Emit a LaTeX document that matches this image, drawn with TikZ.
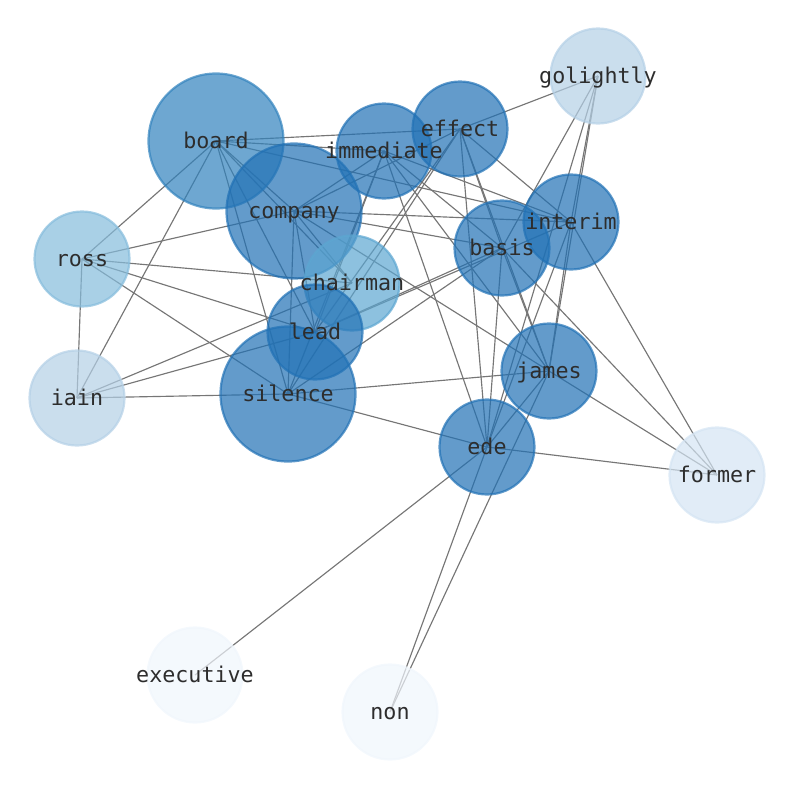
\documentclass[tikz,border=0pt]{standalone}
\usepackage{fontspec}
\setmonofont{DejaVu Sans Mono}
\definecolor{cA}{RGB}{33,113,181}
\definecolor{cB}{RGB}{49,130,189}
\definecolor{cC}{RGB}{92,166,209}
\definecolor{cD}{RGB}{133,188,220}
\definecolor{cE}{RGB}{180,208,230}
\definecolor{cF}{RGB}{212,228,243}
\definecolor{cG}{RGB}{240,246,252}
\definecolor{edgec}{RGB}{118,118,118}
\definecolor{txt}{RGB}{45,45,45}
\begin{document}
\begin{tikzpicture}[x=1pt,y=-1pt,
  edge/.style={draw=edgec,line width=1.15pt},
  disc/.style={fill=#1,draw=#1,fill opacity=0.7,draw opacity=0.7,line width=2.2pt},
  lbl/.style={anchor=base,text=txt,font=\ttfamily\fontsize{21.7}{24}\selectfont}]
\useasboundingbox (0,0) rectangle (794,790);
% node positions
\coordinate (golightly) at (598,76);
\coordinate (board) at (216,141);
\coordinate (immediate) at (384,151);
\coordinate (effect) at (460,129);
\coordinate (company) at (294,211);
\coordinate (interim) at (571,222);
\coordinate (ross) at (82,259);
\coordinate (basis) at (502,248);
\coordinate (chairman) at (352,283);
\coordinate (lead) at (315,332);
\coordinate (james) at (549,371);
\coordinate (iain) at (77,398);
\coordinate (silence) at (288,394);
\coordinate (ede) at (487,447);
\coordinate (former) at (717,475);
\coordinate (executive) at (195,675);
\coordinate (non) at (390,712);
% edges
\foreach \a/\b in {golightly/effect,golightly/basis,golightly/ede,golightly/interim,golightly/james,
  iain/ross,iain/board,iain/chairman,iain/lead,iain/silence,
  ross/board,ross/company,ross/chairman,ross/lead,ross/silence,
  former/interim,former/basis,former/james,former/ede,
  executive/ede,non/ede,non/james,
  ede/effect,ede/immediate,ede/basis,ede/interim,ede/james,ede/silence,
  james/silence,james/company,james/immediate,james/effect,james/basis,james/interim,
  interim/lead,interim/board,interim/company,interim/effect,interim/immediate,
  basis/effect,basis/company,basis/lead,basis/immediate,basis/silence,
  effect/board,effect/company,effect/silence,effect/lead,
  board/company,board/chairman,board/lead,board/silence,board/immediate,
  immediate/company,immediate/silence,immediate/lead,
  company/silence,company/lead,company/chairman}
  {\draw[edge] (\a) -- (\b);}
% discs
\path[disc=cE] (golightly) circle[radius=47.5];
\path[disc=cE] (iain) circle[radius=47.5];
\path[disc=cD] (ross) circle[radius=47.5];
\path[disc=cF] (former) circle[radius=47.5];
\path[disc=cG] (executive) circle[radius=47.5];
\path[disc=cG] (non) circle[radius=47.5];
\path[disc=cB] (board) circle[radius=67.5];
\path[disc=cA] (immediate) circle[radius=47.5];
\path[disc=cA] (effect) circle[radius=47.5];
\path[disc=cA] (company) circle[radius=67.5];
\path[disc=cA] (interim) circle[radius=47.5];
\path[disc=cA] (basis) circle[radius=47.5];
\path[disc=cC] (chairman) circle[radius=47.5];
\path[disc=cA] (lead) circle[radius=47.5];
\path[disc=cA] (silence) circle[radius=67.5];
\path[disc=cA] (james) circle[radius=47.5];
\path[disc=cA] (ede) circle[radius=47.5];
% labels
\foreach \n in {golightly,board,immediate,effect,company,interim,ross,basis,chairman,lead,james,iain,silence,ede,former,executive,non}
  {\node[lbl] (l-\n) at ([yshift=-7.5pt]\n) {\n};}
\end{tikzpicture}
\end{document}
